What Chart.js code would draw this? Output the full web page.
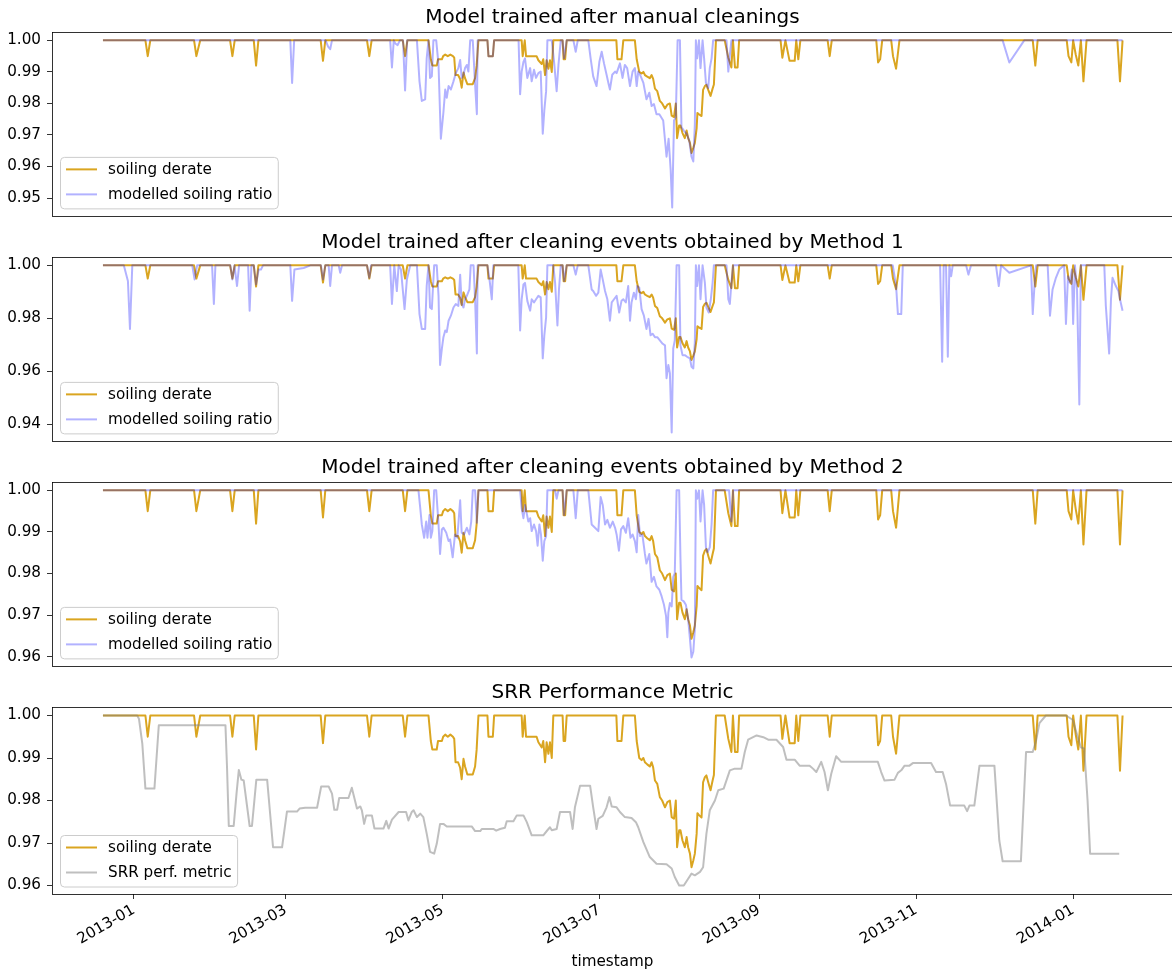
<!DOCTYPE html>
<html>
<head>
<meta charset="utf-8">
<script src="https://cdn.jsdelivr.net/npm/chart.js@4.4.0/dist/chart.umd.min.js"></script>
<style>
html, body { margin: 0; padding: 0; background: #fff; overflow: hidden; width: 1172px; height: 971px; }
canvas { position: absolute; left: 0; }
</style>
</head>
<body>
<canvas id="c1" width="1180" height="229" style="top:2px"></canvas>
<canvas id="c2" width="1180" height="229" style="top:227px"></canvas>
<canvas id="c3" width="1180" height="229" style="top:452px"></canvas>
<canvas id="c4" width="1180" height="294" style="top:677px"></canvas>
<script>
// x values are days counted from 2013-01-01
var xTickDays = [0, 59, 120, 181, 243, 304, 365];
var xTickLabels = ["2013-01", "2013-03", "2013-05", "2013-07", "2013-09", "2013-11", "2014-01"];

var yTicksManual = [0.95, 0.96, 0.97, 0.98, 0.99, 1.00];
var yTicksMethod1 = [0.94, 0.96, 0.98, 1.00];
var yTicksMethod2 = [0.96, 0.97, 0.98, 0.99, 1.00];
var yTicksSrr = [0.96, 0.97, 0.98, 0.99, 1.00];

var soilingDerate = [
    [-12, 1], [4.5, 1], [5.4, 0.995], [6.4, 1], [23.4, 1], [24.3, 0.995], [25.8, 1],
    [37.4, 1], [38.3, 0.995], [39.2, 1], [46.6, 1], [47.5, 0.992], [48.4, 1],
    [72.6, 1], [73.5, 0.9935], [74.4, 1], [90.6, 1], [91.5, 0.995], [92.4, 1],
    [104.5, 1], [105.4, 0.995], [106.3, 1],
    [114.5, 1], [115.4, 0.994], [116, 0.992], [117.7, 0.992], [118.2, 0.994], [119.7, 0.994],
    [120.2, 0.995], [121, 0.9955], [122, 0.995], [123, 0.9955], [124, 0.995], [124.5, 0.9945],
    [125, 0.989], [126, 0.989], [126.8, 0.9877], [127.4, 0.985], [128.1, 0.9898], [128.7, 0.988],
    [129.6, 0.9861], [131.7, 0.9861], [132.6, 0.988], [133.2, 0.9919], [133.9, 1],
    [137.4, 1], [137.8, 0.995], [139.5, 0.995], [140, 1],
    [150.7, 1], [151.1, 0.995], [151.9, 1], [152.4, 0.995], [156.5, 0.995], [157.2, 0.9937],
    [158.5, 0.9925], [159.1, 0.994], [159.8, 0.989], [160.4, 0.9937], [161.1, 0.991],
    [161.7, 0.9937], [162.4, 0.990], [163, 1],
    [166.6, 1], [167, 0.994], [167.6, 0.994], [168.2, 1],
    [187.5, 1], [187.9, 0.994], [189.5, 0.994], [190.2, 1],
    [194.7, 1], [195.4, 0.994], [196.4, 0.990], [197.3, 0.9895], [198, 0.990], [198.6, 0.989],
    [199.5, 0.9885], [200.5, 0.988], [201.2, 0.989], [201.8, 0.9878], [202.5, 0.9847],
    [203.4, 0.9839], [204.4, 0.9808], [205.3, 0.980], [206.4, 0.9784], [207.3, 0.9796],
    [208.3, 0.980], [209, 0.9761], [209.9, 0.9757], [210.6, 0.980], [211.1, 0.969],
    [211.9, 0.973], [212.4, 0.973], [213.2, 0.9706], [214.1, 0.969], [214.8, 0.9714],
    [215.4, 0.969], [216.1, 0.9675], [216.7, 0.9643], [217.4, 0.9659], [218, 0.9675],
    [218.7, 0.9722], [219, 0.977], [219.7, 0.9765], [220.6, 0.976], [221.2, 0.9843],
    [221.9, 0.9855], [222.5, 0.9859], [223.2, 0.9843], [224.1, 0.9824], [224.9, 0.9847],
    [225.4, 0.986], [226.2, 1],
    [229.6, 1], [231, 0.9945], [232.2, 0.9914], [232.8, 1], [233.6, 0.9914], [234.6, 0.9914], [235.2, 1],
    [251.3, 1], [252, 0.9945], [253.2, 1], [254.8, 0.9935], [256.8, 0.9935], [257.4, 1],
    [258.2, 0.994], [259, 1],
    [269.6, 1], [270.4, 0.995], [271.2, 1],
    [288.5, 1], [289.2, 0.993], [290, 0.994], [290.8, 1],
    [294.3, 1], [295, 0.995], [296.2, 0.991], [297.5, 1],
    [349.3, 1], [350.3, 0.992], [351.2, 1],
    [362.5, 1], [363.2, 0.995], [364.3, 0.993], [365, 1], [366, 0.9955], [367, 0.992], [368, 1],
    [369, 0.987], [370.2, 1], [382.2, 1], [383.2, 0.987], [384.2, 1]
];

var modelledManual = [
    [-12, 1], [60.8, 1], [61.5, 0.9865], [62.3, 1], [74.5, 1], [75.5, 0.998], [76.3, 0.9972], [77, 1],
    [99.6, 1], [100.3, 0.9914], [101, 1], [101.6, 0.999], [102.5, 0.9985], [103.4, 1],
    [104.6, 1], [105.4, 0.9841], [106.2, 1], [110, 1], [111, 0.987], [111.9, 0.9808],
    [113.2, 0.9813], [113.8, 0.9943], [114.5, 1], [115.1, 0.9881], [115.8, 0.9886], [116.4, 1],
    [117.5, 1], [118.4, 0.9922], [119.3, 0.9688], [120.3, 0.9772], [121, 0.9844], [121.6, 0.9818],
    [122.3, 0.9855], [123.2, 0.9844], [124.2, 0.987], [125.1, 0.9896], [126.1, 0.9912],
    [126.8, 0.9938], [127.4, 0.9881], [128.1, 0.9891], [128.7, 0.9912], [129.4, 0.9922],
    [130, 0.9901], [130.7, 1], [131.7, 1], [132.6, 0.986], [133.3, 0.9766], [133.6, 1],
    [137.4, 1], [137.8, 0.995], [139.5, 0.995], [140, 1],
    [149.5, 1], [150.1, 0.9829], [150.7, 0.9901], [151.4, 0.9932], [152, 0.9943], [152.9, 0.9881],
    [154, 0.9912], [154.6, 0.987], [155.5, 0.9907], [156.3, 0.9881], [157.2, 0.9896],
    [158.1, 0.9901], [158.9, 0.9704], [159.5, 0.9777], [160.2, 0.9839], [160.7, 1], [162.4, 1],
    [163.3, 0.9932], [164.3, 0.9839], [165, 0.9922], [165.9, 1], [166.6, 1], [167.2, 0.9943],
    [168.2, 1], [170.8, 1], [171.7, 0.9964], [172.5, 1], [176.6, 1], [177.5, 0.9943],
    [178.5, 0.9886], [179.8, 0.9855], [180.9, 0.9932], [181.8, 0.9964], [182.7, 0.9927],
    [183.7, 0.9891], [184.4, 0.9865], [185, 0.9844], [185.9, 0.9891], [187, 0.9901],
    [187.6, 0.9896], [188.9, 0.9927], [189.9, 0.9881], [190.8, 0.9922], [191.7, 0.9912],
    [192.8, 0.9855], [193.8, 0.9901], [194.7, 0.9912], [195.4, 0.9855], [196, 0.9901],
    [196.7, 0.9891], [198, 0.9865], [199.2, 0.9813], [200.3, 0.9834], [201.2, 0.9792],
    [202.1, 0.9798], [203.1, 0.9766], [204.2, 0.9766], [205.7, 0.9746], [207, 0.9631],
    [207.8, 0.9688], [208.6, 0.959], [209.2, 0.947], [209.9, 0.9746], [210.6, 0.9756],
    [211.3, 1], [212.2, 1], [212.8, 0.9725], [213.7, 0.9714], [214.8, 0.9704], [215.8, 0.9683],
    [216.7, 0.9631], [217.4, 0.9616], [218, 0.9735], [218.4, 1], [218.9, 0.9943], [219.6, 1],
    [220.2, 0.9912], [221, 1], [221.6, 0.9943], [222.3, 0.9865], [223.2, 0.9849],
    [223.8, 0.9912], [224.5, 0.9943], [225.1, 1], [230.3, 1], [231, 0.9901], [231.6, 0.9953],
    [232.2, 1], [337.6, 1], [340.2, 0.993], [346, 1], [384.2, 1]
];

var modelledMethod1 = [
    [-12, 1], [-3.9, 1], [-2.3, 0.9941], [-1.5, 0.976], [-0.6, 1], [22.7, 1], [23.6, 0.9947],
    [24.6, 1], [30.4, 1], [31.1, 0.9854], [31.7, 1], [37.5, 1], [38.3, 0.9947], [39.1, 1],
    [40.1, 0.9922], [40.9, 1], [44.4, 1], [45, 0.9829], [45.7, 1], [46.6, 1], [47.5, 0.9928],
    [48.5, 0.9984], [49.4, 0.9984], [50.2, 1], [60.8, 1], [61.5, 0.9866], [62.4, 0.9984],
    [66, 0.999], [68.6, 1], [72.7, 1], [73.5, 0.9947], [74.4, 1], [75.7, 1], [76.3, 0.9922],
    [77, 1], [79.6, 1], [80.2, 0.9972], [80.9, 1], [90.6, 1], [91.5, 0.9953], [92.2, 1],
    [99.6, 1], [100.3, 0.9854], [101.2, 1], [102.2, 0.9903], [102.9, 1], [103.8, 0.9984],
    [105.2, 0.9835], [106.1, 0.9947], [107.4, 1], [110, 1], [111, 0.9816], [111.9, 0.976],
    [113.2, 0.976], [113.8, 0.9922], [114.5, 1], [115.1, 0.9841], [115.8, 0.9835], [116.7, 1],
    [117.7, 1], [118.4, 0.9885], [119, 0.9624], [119.7, 0.9686], [120.3, 0.9729], [121, 0.9754],
    [121.6, 0.9748], [122.3, 0.9791], [123.2, 0.981], [124.2, 0.9841], [125.1, 0.9854],
    [126.1, 0.9847], [126.8, 0.9965], [127.4, 0.9854], [128.1, 0.9841], [128.7, 0.9872],
    [129.4, 0.9885], [130.4, 0.9909], [130.9, 1], [132, 1], [132.6, 0.9872], [133.3, 0.9667],
    [133.6, 1], [137.4, 1], [138.2, 0.9947], [139.1, 0.9872], [139.7, 1], [149.4, 1],
    [150.1, 0.9754], [150.7, 0.9872], [151.4, 0.9928], [152, 0.9934], [152.9, 0.9866],
    [154, 0.9829], [154.6, 0.9872], [155.5, 0.986], [156.3, 0.9872], [157.2, 0.9885],
    [158.1, 0.9879], [158.9, 0.9649], [159.5, 0.9735], [160.2, 0.9804], [160.7, 1], [163, 1],
    [163.7, 0.9934], [164.6, 0.9773], [165.2, 0.9909], [165.9, 1], [166.6, 1], [167.2, 0.9941],
    [168.2, 1], [170.8, 1], [171.7, 0.9965], [172.5, 1], [176.6, 1], [177.9, 0.9909],
    [178.5, 0.9903], [179.6, 0.9885], [180.5, 0.9897], [181.4, 0.9984], [182.2, 0.9947],
    [183.1, 0.9903], [184, 0.9872], [185, 0.9791], [185.7, 0.986], [186.6, 0.9872],
    [187.6, 0.9885], [188.6, 0.9822], [189.5, 0.9866], [190.2, 0.9872], [191.2, 0.986],
    [192.1, 0.9922], [192.8, 0.9791], [193.4, 0.986], [194.3, 0.9897], [195.1, 0.9872],
    [195.6, 0.9922], [196.4, 0.9916], [197.3, 0.9835], [198.2, 0.981], [199.2, 0.976],
    [200, 0.9798], [200.8, 0.9736], [201.6, 0.9742], [202.5, 0.9729], [203.4, 0.9729],
    [204.4, 0.9717], [205.5, 0.9704], [206.4, 0.9698], [207, 0.9574], [207.7, 0.9624],
    [208.3, 0.9593], [209, 0.9369], [209.6, 0.9686], [210.2, 0.9717], [210.9, 1], [211.9, 1],
    [212.4, 0.9698], [213.2, 0.9661], [214.1, 0.9661], [215, 0.9655], [216.1, 0.9649],
    [216.7, 0.9617], [217.4, 0.9611], [218, 0.9711], [218.4, 1], [218.9, 0.9922], [219.6, 1],
    [220.2, 0.9872], [221, 1], [221.9, 0.9934], [222.5, 0.9841], [223.4, 0.9822],
    [224.2, 0.9872], [224.9, 0.9934], [225.4, 1], [230.3, 1], [231, 0.9872], [231.6, 0.9854],
    [232.2, 0.9934], [232.9, 1], [294.9, 1], [296.2, 0.9922], [296.9, 0.9816], [298.2, 0.9816],
    [298.8, 1], [313.3, 1], [314.1, 0.9636], [314.7, 1], [315.6, 1], [316.3, 0.9655],
    [316.9, 1], [317.6, 0.9959], [318.2, 1], [323.4, 1], [324.3, 0.9965], [325.3, 1],
    [335, 1], [336.1, 0.9922], [337, 1], [340.2, 0.9972], [348.6, 1], [349.3, 0.9816],
    [350, 0.9928], [350.6, 1], [355.1, 1], [356, 0.981], [357, 0.9909], [358.3, 0.9953],
    [359.6, 0.9984], [361.5, 1], [362.2, 0.9779], [363, 0.9959], [363.7, 0.9934],
    [364.5, 0.9984], [365, 0.9779], [365.7, 1], [366.5, 0.9909], [367.4, 0.9475], [368, 1],
    [377.1, 1], [377.7, 0.9847], [379, 0.9667], [379.7, 0.9872], [380.3, 0.9953],
    [381.6, 0.9922], [382.6, 0.9903], [383.2, 0.9872], [384.2, 0.9829]
];

var modelledMethod2 = [
    [-12, 1], [110.6, 1], [111.3, 0.9957], [111.9, 0.9918], [112.8, 0.9886], [113.6, 0.9925],
    [114.1, 0.9886], [114.9, 0.9941], [115.4, 0.9886], [116, 0.9902], [116.7, 1], [117.5, 1],
    [118.4, 0.9918], [119, 0.9847], [119.7, 0.9906], [120.3, 0.991], [121.4, 0.9898],
    [122.3, 0.9878], [122.9, 0.9882], [123.9, 0.9839], [124.8, 0.9894], [125.7, 0.9886],
    [126.8, 0.9976], [127.4, 0.9898], [128.3, 0.9894], [129.4, 0.991], [130.4, 0.9894],
    [131.1, 0.9925], [131.7, 1], [132.6, 1], [133.3, 0.9922], [133.9, 1], [150.1, 1],
    [150.7, 0.9957], [151.4, 0.9933], [152, 0.9965], [153.3, 0.9925], [154, 0.9933],
    [154.6, 0.9902], [155.5, 0.9918], [156.3, 0.9902], [156.9, 0.9867], [157.6, 0.9918],
    [158.2, 0.9894], [158.9, 0.9831], [159.5, 0.9878], [160.2, 0.989], [160.7, 1], [163.7, 1],
    [164.3, 0.998], [165, 1], [166.6, 1], [167.2, 0.9941], [168.2, 1], [170.8, 1],
    [171.7, 0.9933], [172.5, 1], [176.6, 1], [177.9, 0.9918], [179.2, 0.991], [180.5, 0.9902],
    [181.4, 0.9984], [182.2, 0.9965], [183.1, 0.9918], [184, 0.9929], [185, 0.991],
    [186.1, 0.9925], [187, 0.991], [187.6, 0.9894], [188.5, 0.9855], [189.3, 0.9906],
    [190.2, 0.9914], [191.2, 0.9898], [192.1, 0.9933], [193, 0.9886], [193.8, 0.9894],
    [194.7, 0.9878], [195.4, 0.9851], [196, 0.9941], [196.7, 0.989], [197.6, 0.9894],
    [198.6, 0.9847], [199.2, 0.9824], [200.3, 0.9847], [201.2, 0.978], [202.1, 0.9792],
    [203.1, 0.9769], [204.2, 0.9761], [205.1, 0.9745], [206, 0.9725], [206.8, 0.9698],
    [207.3, 0.9647], [207.7, 0.9706], [208.3, 0.9729], [209, 0.9721], [209.6, 0.9792],
    [210.2, 0.98], [210.9, 1], [211.9, 1], [212.4, 0.9839], [212.8, 0.9737], [213.7, 0.9733],
    [214.5, 0.9725], [215.4, 0.969], [216.1, 0.9643], [216.7, 0.9598], [217.4, 0.9612],
    [218, 0.9667], [218.4, 1], [218.9, 0.998], [219.6, 1], [220.2, 0.9925], [221, 1],
    [221.6, 0.9965], [222.3, 0.9863], [222.9, 0.9851], [223.8, 0.9863], [224.5, 0.9918],
    [225.1, 1], [231.3, 1], [232.2, 0.9925], [232.9, 1], [384.2, 1]
];

var srrMetric = [
    [-12, 1], [1.3, 1], [2, 0.9992], [3.3, 0.9933], [4.5, 0.9828], [8, 0.9828], [9.7, 0.9977],
    [35.6, 0.9977], [36.2, 0.988], [36.9, 0.974], [38.8, 0.974], [39.9, 0.9816], [40.8, 0.9872],
    [41.8, 0.9849], [42.7, 0.9847], [45, 0.974], [45.9, 0.974], [47.6, 0.9849], [51.8, 0.9849],
    [54.1, 0.969], [57.6, 0.969], [59.5, 0.9774], [63.4, 0.9774], [64.4, 0.9781], [66.6, 0.9783],
    [71.2, 0.9783], [72.8, 0.9833], [75.7, 0.9833], [77, 0.9816], [77.9, 0.9778], [79, 0.9778],
    [79.8, 0.9806], [83.4, 0.9806], [84.7, 0.983], [86.7, 0.9781], [88, 0.9786], [88.6, 0.9777],
    [89.5, 0.9745], [90.3, 0.9765], [92.5, 0.9765], [93.5, 0.9734], [97, 0.9734], [98.1, 0.9752],
    [99, 0.9734], [100.3, 0.9755], [102.9, 0.9773], [105.8, 0.9773], [106.7, 0.9753],
    [108, 0.9773], [108.7, 0.9777], [110, 0.9761], [111.3, 0.9769], [112.5, 0.9761],
    [113.8, 0.9722], [115.1, 0.9679], [116.7, 0.9675], [117.7, 0.9698], [119, 0.9745],
    [120.3, 0.9745], [121.6, 0.9739], [131.3, 0.9739], [132.6, 0.9728], [134.6, 0.9728],
    [135.2, 0.9733], [139.7, 0.9733], [140.8, 0.9729], [142.3, 0.9733], [144.2, 0.9736],
    [144.9, 0.9751], [147.5, 0.9751], [148.8, 0.9765], [151.4, 0.9765], [152.7, 0.9749],
    [154.6, 0.9718], [159.1, 0.9718], [160.7, 0.973], [161.7, 0.9737], [162.4, 0.973],
    [164.3, 0.9733], [165.6, 0.9773], [169.5, 0.9773], [170.5, 0.9733], [171.4, 0.9784],
    [173.4, 0.9835], [177.3, 0.9835], [178.5, 0.9784], [179.8, 0.9733], [180.5, 0.9757],
    [182.2, 0.9764], [183.7, 0.9784], [184.8, 0.9808], [185.7, 0.9786], [187.6, 0.9784],
    [188.9, 0.9773], [190.8, 0.9761], [193.4, 0.9759], [195.1, 0.9749], [196, 0.9737],
    [198, 0.9702], [200.5, 0.9667], [203.1, 0.9651], [207, 0.965], [209, 0.964], [210.2, 0.962],
    [211.9, 0.96], [213.7, 0.96], [215.4, 0.9616], [216.7, 0.9628], [218, 0.9624], [220, 0.9632],
    [221.2, 0.9643], [222.5, 0.9722], [223.8, 0.9777], [225.8, 0.98], [227.1, 0.9824],
    [229.2, 0.9828], [231.6, 0.9871], [233.5, 0.9875], [236.1, 0.9875], [237.4, 0.9914],
    [238.7, 0.9943], [242, 0.9953], [244.6, 0.9949], [246.5, 0.9943], [249.7, 0.9943],
    [252.3, 0.9926], [253.6, 0.9896], [256.8, 0.9896], [258.7, 0.9882], [262.6, 0.9882],
    [263.9, 0.9875], [265.2, 0.9867], [267.1, 0.9891], [268.4, 0.9867], [269.7, 0.9824],
    [271, 0.9863], [272.9, 0.9904], [274.9, 0.9891], [289.1, 0.9891], [290.4, 0.9867],
    [291.7, 0.9847], [295.6, 0.9849], [296.9, 0.9865], [298.2, 0.9871], [299.5, 0.9882],
    [301.4, 0.9882], [302.7, 0.9888], [309.8, 0.9888], [311.7, 0.9867], [314.3, 0.9867],
    [315.6, 0.9839], [317.2, 0.9788], [322.7, 0.9788], [323.8, 0.9775], [324.7, 0.9788],
    [326.6, 0.9788], [328.6, 0.9882], [334.4, 0.9882], [336.3, 0.9706], [337.6, 0.9657],
    [344.7, 0.9657], [346.7, 0.9914], [349.3, 0.9914], [350.6, 0.9941], [351.9, 0.9982],
    [354.4, 1], [362.2, 1], [364.8, 0.999], [368, 0.9925], [369.3, 0.9922], [370.6, 0.98],
    [371.6, 0.9675], [382.9, 0.9675]
];

var FONT = "DejaVu Sans";
var X_MIN = -31.8, X_MAX = 403.8;

// full box round the plot area, like matplotlib spines
var frame = {
    id: "frame",
    afterDraw: function (chart) {
        var a = chart.chartArea, ctx = chart.ctx;
        ctx.save();
        ctx.strokeStyle = "#000";
        ctx.lineWidth = 0.8;
        ctx.strokeRect(Math.round(a.left) + 0.5, Math.round(a.top) + 0.5,
            Math.round(a.right - a.left), Math.round(a.bottom - a.top));
        ctx.restore();
    }
};

// title centred over the plot area rather than the whole canvas
var axesTitle = {
    id: "axesTitle",
    afterDraw: function (chart, args, opts) {
        var a = chart.chartArea, ctx = chart.ctx;
        ctx.save();
        ctx.font = "20px '" + FONT + "'";
        ctx.fillStyle = "#000";
        ctx.textAlign = "center";
        ctx.textBaseline = "middle";
        ctx.fillText(opts.text, (a.left + a.right) / 2, a.top - 14);
        ctx.restore();
    }
};

// framed legend inside the lower left corner
var boxLegend = {
    id: "boxLegend",
    afterDatasetsDraw: function (chart) {
        var a = chart.chartArea, ctx = chart.ctx;
        var sets = chart.data.datasets;
        ctx.save();
        ctx.font = "15.2px '" + FONT + "'";
        var w = 0;
        sets.forEach(function (s) { w = Math.max(w, ctx.measureText(s.label).width); });
        var x0 = a.left + 8.5, y0 = a.bottom - 58.5;
        var bw = 56 + w + 6 - 8.5, bh = 51.5;
        ctx.beginPath();
        ctx.roundRect(x0, y0, bw, bh, 4);
        ctx.fillStyle = "rgba(255,255,255,0.8)";
        ctx.fill();
        ctx.strokeStyle = "#cccccc";
        ctx.lineWidth = 1;
        ctx.stroke();
        var rows = [a.bottom - 46.5, a.bottom - 21.5];
        sets.forEach(function (s, i) {
            ctx.beginPath();
            ctx.moveTo(a.left + 14, rows[i]);
            ctx.lineTo(a.left + 45, rows[i]);
            ctx.strokeStyle = s.borderColor;
            ctx.lineWidth = 2;
            ctx.stroke();
            ctx.fillStyle = "#000";
            ctx.textBaseline = "middle";
            ctx.fillText(s.label, a.left + 56, rows[i] + 1);
        });
        ctx.restore();
    }
};

function toPoints(pairs) {
    return pairs.map(function (p) { return { x: p[0], y: p[1] }; });
}

function panel(id, title, other, otherLabel, otherColor, yTicks, bottom) {
    var all = soilingDerate.concat(other).map(function (p) { return p[1]; });
    var lo = Math.min.apply(null, all), hi = Math.max.apply(null, all);
    var pad = (hi - lo) * 0.05;

    var xAxis = {
        type: "linear",
        min: X_MIN,
        max: X_MAX,
        afterFit: function (s) { s.height = bottom ? 77 : 12; }
    };
    if (bottom) {
        xAxis.afterBuildTicks = function (s) {
            s.ticks = xTickDays.map(function (d) { return { value: d }; });
        };
        xAxis.ticks = {
            autoSkip: false, minRotation: 30, maxRotation: 30, padding: 2, color: "#000",
            font: { family: FONT, size: 15.2 },
            callback: function (v, i) { return xTickLabels[i]; }
        };
        xAxis.grid = { display: true, drawOnChartArea: false, drawTicks: true, tickLength: 5, tickColor: "#000", tickWidth: 0.8 };
        xAxis.border = { display: false };
        xAxis.title = { display: true, text: "timestamp", color: "#000", font: { family: FONT, size: 15.2 }, padding: { top: 0, bottom: 0 } };
    } else {
        xAxis.ticks = { display: false };
        xAxis.grid = { display: false };
        xAxis.border = { display: false };
    }

    new Chart(document.getElementById(id), {
        type: "line",
        data: {
            datasets: [
                {
                    label: "soiling derate",
                    data: toPoints(soilingDerate),
                    borderColor: "#DAA520",
                    borderWidth: 2,
                    pointRadius: 0,
                    tension: 0,
                    borderJoinStyle: "round",
                    order: 2
                },
                {
                    label: otherLabel,
                    data: toPoints(other),
                    borderColor: otherColor,
                    borderWidth: 2,
                    pointRadius: 0,
                    tension: 0,
                    borderJoinStyle: "round",
                    order: 1
                }
            ]
        },
        options: {
            responsive: false,
            animation: false,
            events: [],
            layout: { padding: { left: 0, right: 7, top: 30, bottom: 0 } },
            plugins: {
                legend: { display: false },
                tooltip: { enabled: false },
                title: { display: false },
                axesTitle: { text: title }
            },
            scales: {
                x: xAxis,
                y: {
                    min: lo - pad,
                    max: hi + pad,
                    afterFit: function (s) { s.width = 52; },
                    afterBuildTicks: function (s) {
                        s.ticks = yTicks.map(function (v) { return { value: v }; });
                    },
                    ticks: {
                        padding: 6, color: "#000",
                        font: { family: FONT, size: 15.2 },
                        callback: function (v) { return v.toFixed(2); }
                    },
                    grid: { display: true, drawOnChartArea: false, drawTicks: true, tickLength: 5, tickColor: "#000", tickWidth: 0.8 },
                    border: { display: false }
                }
            }
        },
        plugins: [boxLegend, frame, axesTitle]
    });
}

panel("c1", "Model trained after manual cleanings", modelledManual,
    "modelled soiling ratio", "rgba(0,0,255,0.3)", yTicksManual, false);
panel("c2", "Model trained after cleaning events obtained by Method 1", modelledMethod1,
    "modelled soiling ratio", "rgba(0,0,255,0.3)", yTicksMethod1, false);
panel("c3", "Model trained after cleaning events obtained by Method 2", modelledMethod2,
    "modelled soiling ratio", "rgba(0,0,255,0.3)", yTicksMethod2, false);
panel("c4", "SRR Performance Metric", srrMetric,
    "SRR perf. metric", "rgba(128,128,128,0.5)", yTicksSrr, true);
</script>
</body>
</html>
